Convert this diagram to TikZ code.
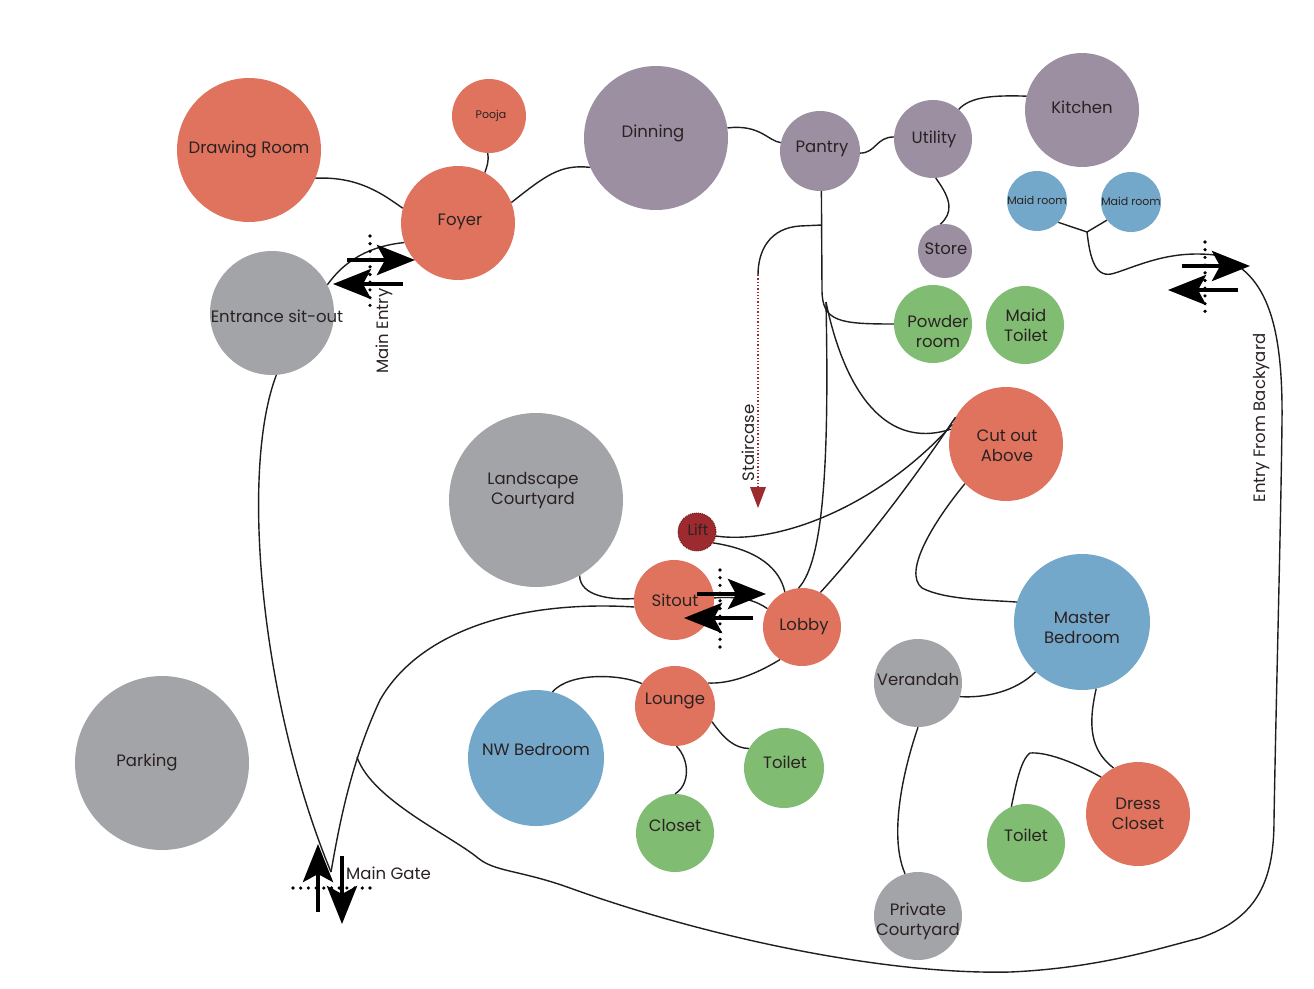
\documentclass[tikz,border=0pt]{standalone}
\usepackage{fontspec}
\setmainfont{Poppins}
\usetikzlibrary{arrows.meta}
\definecolor{cred}{HTML}{E0735E}
\definecolor{cpur}{HTML}{9C8FA2}
\definecolor{cgray}{HTML}{A3A4A7}
\definecolor{cgreen}{HTML}{80BC72}
\definecolor{cblue}{HTML}{74A8CA}
\definecolor{clift}{HTML}{9C2A2E}
\definecolor{txt}{HTML}{2A2222}
\definecolor{lk}{HTML}{1E1E1E}
\tikzset{
  room/.style={circle, inner sep=0pt, draw=none},
  lbl/.style={font=\fontsize{16.5}{20}\selectfont, text=txt, align=center, inner sep=0pt},
  smalllbl/.style={font=\fontsize{11}{13}\selectfont, text=txt, inner sep=0pt},
  link/.style={line width=1.4pt, draw=lk},
  flow/.style={line width=4.5pt, draw=black, -{Stealth[length=38pt 0,width=30pt 0,inset=8pt]}},
  dotline/.style={line width=3.6pt, draw=black, line cap=round, dash pattern=on 0pt off 7.7pt},
}
\newcommand\roomnode[6]{%
  \node[room, fill=#4, minimum size=#3] (#1) at (#2) {};
  \node[lbl] (#1-t) at (#5) {#6};}
\begin{document}
\begin{tikzpicture}[x=1pt,y=-1pt]
\useasboundingbox (0,0) rectangle (1314,988);

% rooms
\roomnode{dr}{249,150}{144pt}{cred}{249,149}{Drawing Room}
\node[room, fill=cred, minimum size=74pt] (pooja) at (489,116) {};
\node[smalllbl] (pooja-t) at (491,116) {Pooja};
\roomnode{foyer}{458,223}{114pt}{cred}{460,222}{Foyer}
\roomnode{din}{656,138}{144pt}{cpur}{653,133}{Dinning}
\roomnode{pan}{820,151}{80pt}{cpur}{822,149}{Pantry}
\roomnode{uti}{933,139}{78pt}{cpur}{934,139}{Utility}
\roomnode{kit}{1082,110}{114pt}{cpur}{1082,107}{Kitchen}
\node[room, fill=cblue, minimum size=60pt] (maid1) at (1037,201) {};
\node[smalllbl] (maid1-t) at (1037,200) {Maid room};
\node[room, fill=cblue, minimum size=60pt] (maid2) at (1131,202) {};
\node[smalllbl] (maid2-t) at (1131,201) {Maid room};
\roomnode{store}{945,251}{54pt}{cpur}{946,249}{Store}
\roomnode{pow}{933,324}{78pt}{cgreen}{938,331}{Powder\\room}
\roomnode{mt}{1025,325}{78pt}{cgreen}{1026,325}{Maid\\Toilet}
\roomnode{ent}{272,313}{124pt}{cgray}{277,316}{Entrance sit-out}
\roomnode{cut}{1006,444}{114pt}{cred}{1007,446}{Cut out\\Above}
\roomnode{land}{536,500}{174pt}{cgray}{533,491}{Landscape\\Courtyard}
\node[room, fill=clift, draw=clift!70!black, densely dotted, line width=1pt, minimum size=38pt] (lift) at (697,532) {};
\node[lbl, font=\fontsize{15}{18}\selectfont] (lift-t) at (698,530) {Lift};
\roomnode{sit}{674,600}{80pt}{cred}{675,600}{Sitout}
\roomnode{lob}{802,627}{78pt}{cred}{804,627}{Lobby}
\roomnode{mb}{1082,622}{136pt}{cblue}{1082,628}{Master\\Bedroom}
\roomnode{ver}{918,683}{88pt}{cgray}{918,679}{Verandah}
\roomnode{lou}{675,706}{80pt}{cred}{675,701}{Lounge}
\roomnode{nw}{536,758}{136pt}{cblue}{536,749}{NW Bedroom}
\roomnode{toi}{784,768}{80pt}{cgreen}{785,762}{Toilet}
\roomnode{clo}{675,833}{78pt}{cgreen}{675,825}{Closet}
\roomnode{park}{162,763}{174pt}{cgray}{147,762}{Parking}
\roomnode{toi2}{1026,843}{78pt}{cgreen}{1026,835}{Toilet}
\roomnode{dc}{1138,814}{104pt}{cred}{1138,814}{Dress\\Closet}
\roomnode{pc}{918,916}{88pt}{cgray}{918,921}{Private\\Courtyard}

% helper coordinates
\coordinate (gate) at (331,872);
\coordinate (J) at (1087,232);
\coordinate (stairtop) at (822,225);
\coordinate (br) at (826,302);
\coordinate (lc) at (357,757);
\coordinate (stairstart) at (758,275);
\coordinate (stairend) at (758,490);

% connectors
\draw[link] (dr.-23) .. controls (360,176) and (385,196) .. (foyer.165);
\draw[link] (pooja.-92) .. controls (489,162) and (487,166) .. (foyer.62);
\draw[link] (foyer.21) .. controls (545,176) and (560,164) .. (din.-156);
\draw[link] (din.8) .. controls (760,124) and (768,141) .. (pan.168);
\draw[link] (pan.-3) .. controls (876,153) and (876,137) .. (uti.177);
\draw[link] (uti.49) .. controls (970,97) and (992,95) .. (kit.166);
\draw[link] (uti.-86) .. controls (952,200) and (953,213) .. (store.100);
\draw[link] (maid1.-45) -- (J);
\draw[link] (maid2.-143) -- (J);
\draw[link] (pan.-88) -- (822,290) .. controls (822,322) and (840,324) .. (pow.180);
\draw[link] (stairtop) -- (800,226) .. controls (770,228) and (758,250) .. (stairstart);
\draw[draw=clift, line width=1.3pt, dotted] (stairstart) -- (stairend);
\fill[clift] (750,487) -- (766,487) -- (758,508) -- cycle;
\draw[link] (br) .. controls (829,450) and (825,560) .. (lob.95);
\draw[link] (br) .. controls (842,380) and (880,452) .. (cut.165);
\draw[link] (lift.-12) .. controls (780,545) and (880,505) .. (cut.160);
\draw[link] (lift.-34) .. controls (760,550) and (780,570) .. (lob.116);
\draw[link] (lob.62) .. controls (850,560) and (900,500) .. (cut.152);
\draw[link] (cut.-136) .. controls (935,520) and (902,572) .. (922,588) .. controls (945,600) and (990,600) .. (mb.163);
\draw[link] (land.-60) .. controls (580,596) and (610,600) .. (sit.178);
\draw[link] (sit.-170) .. controls (520,600) and (420,630) .. (380,700) .. controls (352,760) and (340,820) .. (gate);
\draw[link] (ent.-86) .. controls (240,470) and (260,700) .. (gate);
\draw[link] (ent.27) .. controls (345,260) and (370,246) .. (foyer.-160);
\draw[link] (sit.3) .. controls (740,596) and (755,600) .. (lob.152);
\draw[link] (lob.-124) .. controls (750,678) and (725,684) .. (lou.35);
\draw[link] (lou.146) .. controls (620,674) and (570,672) .. (nw.76);
\draw[link] (lou.-23) .. controls (725,740) and (735,748) .. (toi.151);
\draw[link] (lou.-88) .. controls (690,760) and (690,785) .. (clo.90);
\draw[link] (mb.-133) .. controls (1015,692) and (985,698) .. (ver.-18);
\draw[link] (mb.-78) .. controls (1088,725) and (1090,750) .. (dc.118);
\draw[link] (dc.135) .. controls (1070,760) and (1045,752) .. (1030,753) .. controls (1020,760) and (1015,790) .. (toi2.112);
\draw[link] (ver.-90) .. controls (900,780) and (890,840) .. (pc.107);
% long service loop
\draw[link] (lc) .. controls (372,800) and (450,835) .. (478,858)
  .. controls (495,872) and (520,870) .. (570,888)
  .. controls (700,935) and (880,975) .. (1010,972)
  .. controls (1100,968) and (1160,948) .. (1200,938)
  .. controls (1258,918) and (1274,880) .. (1274,820)
  .. controls (1276,700) and (1281,520) .. (1282,420)
  .. controls (1283,320) and (1265,270) .. (1215,255)
  .. controls (1170,250) and (1140,265) .. (1115,273)
  .. controls (1095,280) and (1090,258) .. (J);

% entry markers
\coordinate (me1) at (370,236); \coordinate (me2) at (370,312);
\draw[dotline] (me1) -- (me2);
\coordinate (mea) at (347,260); \coordinate (meb) at (415,260);
\coordinate (mec) at (403,284); \coordinate (med) at (333,284);
\draw[flow] (mea) -- (meb);
\draw[flow] (mec) -- (med);
\node[lbl, rotate=90] (mainentry) at (384,331) {Main Entry};

\coordinate (so1) at (720,570); \coordinate (so2) at (720,647);
\draw[dotline] (so1) -- (so2);
\coordinate (soa) at (697,594); \coordinate (sob) at (766,594);
\coordinate (soc) at (753,618); \coordinate (sod) at (684,618);
\draw[flow] (soa) -- (sob);
\draw[flow] (soc) -- (sod);

\coordinate (by1) at (1205,242); \coordinate (by2) at (1205,318);
\draw[dotline] (by1) -- (by2);
\coordinate (bya) at (1182,266); \coordinate (byb) at (1250,266);
\coordinate (byc) at (1238,290); \coordinate (byd) at (1168,290);
\draw[flow] (bya) -- (byb);
\draw[flow] (byc) -- (byd);
\node[lbl, rotate=90] (backyard) at (1262,418) {Entry From Backyard};

\coordinate (mg1) at (293,888); \coordinate (mg2) at (371,888);
\draw[dotline] (mg1) -- (mg2);
\coordinate (mga) at (318,912); \coordinate (mgb) at (318,844);
\coordinate (mgc) at (342,856); \coordinate (mgd) at (342,924);
\draw[flow] (mga) -- (mgb);
\draw[flow] (mgc) -- (mgd);
\node[lbl, anchor=west] (maingate) at (346,873) {Main Gate};

\node[lbl, rotate=90] (staircase) at (748,443) {Staircase};
\end{tikzpicture}
\end{document}
